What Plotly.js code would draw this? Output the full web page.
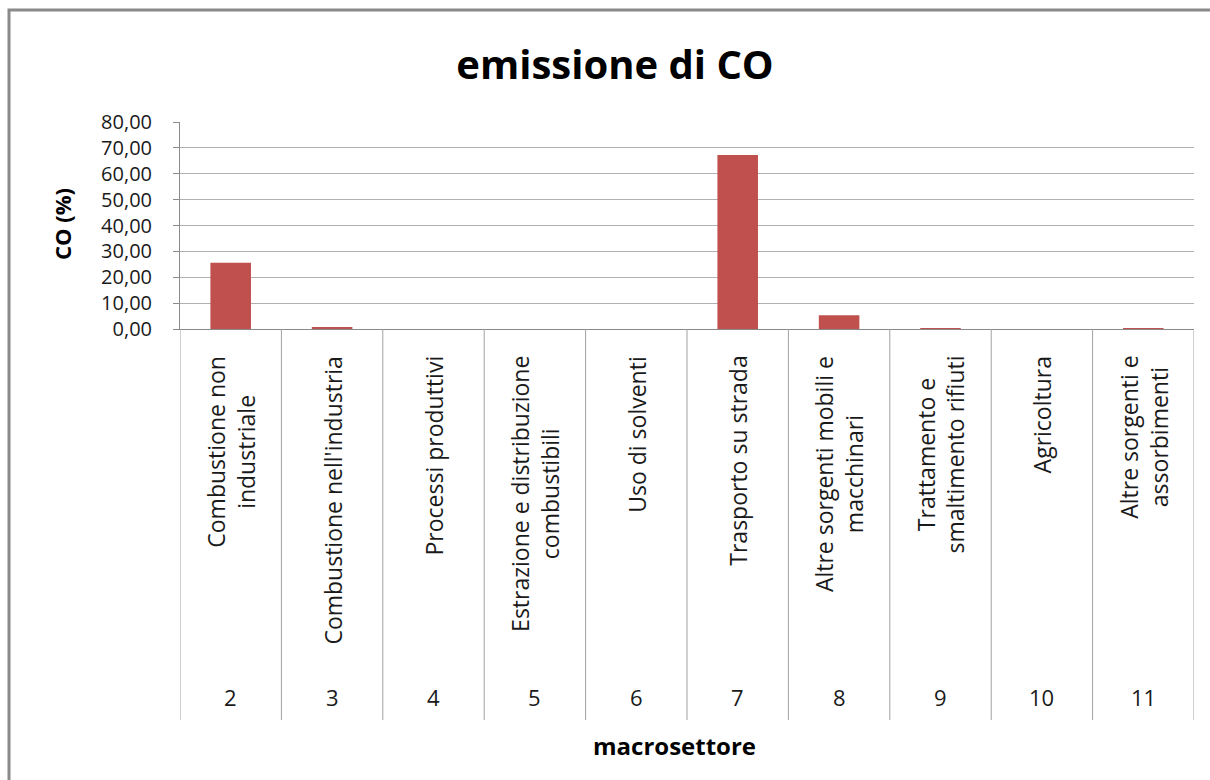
<!DOCTYPE html>
<html>
<head>
<meta charset="utf-8">
<script src="https://cdn.plot.ly/plotly-3.0.1.min.js"></script>
<style>html,body{margin:0;padding:0;background:#fff;}</style>
</head>
<body>
<div id="chart" style="width:1210px;height:780px;"></div>
<script>
// ---- data ----
const sectorNames = [
  "Combustione non<br>industriale",
  "Combustione nell'industria",
  "Processi produttivi",
  "Estrazione e distribuzione<br>combustibili",
  "Uso di solventi",
  "Trasporto su strada",
  "Altre sorgenti mobili e<br>macchinari",
  "Trattamento e<br>smaltimento rifiuti",
  "Agricoltura",
  "Altre sorgenti e<br>assorbimenti"
];
const sectorCodes = ["2","3","4","5","6","7","8","9","10","11"];
const coPercent = [25.6, 0.8, 0, 0, 0, 67.2, 5.3, 0.4, 0, 0.4];

// ---- layout geometry ----
const W = 1210, H = 780;
const M = {l: 180, r: 16, t: 122, b: 451};
const plotH = H - M.t - M.b;
const plotW = W - M.l - M.r;
const py = p => (H - M.b - p) / plotH;   // pixel y -> paper y
const px = p => (p - M.l) / plotW;       // pixel x -> paper x

const FONT = "Open Sans, Noto Sans, sans-serif";
const GRID = "#b0b0b0", AXIS = "#8a8a8a";

const annotations = [];
sectorNames.forEach((name, i) => {
  annotations.push({
    x: i, xref: "x", y: py(354), yref: "paper",
    text: name, showarrow: false, textangle: -90,
    xanchor: "center", yanchor: "top", align: "center",
    font: {family: FONT, size: 23, color: "#1a1a1a"}
  });
  annotations.push({
    x: i, xref: "x", y: py(697), yref: "paper",
    text: sectorCodes[i], showarrow: false,
    xanchor: "center", yanchor: "middle",
    font: {family: FONT, size: 22, color: "#1a1a1a"}
  });
});
annotations.push({
  x: px(62), xref: "paper", y: py(224), yref: "paper",
  text: "<b>CO (%)</b>", showarrow: false, textangle: -90,
  xanchor: "center", yanchor: "middle",
  font: {family: FONT, size: 22, color: "#000"}
});
annotations.push({
  x: px(674), xref: "paper", y: py(745), yref: "paper",
  text: "<b>macrosettore</b>", showarrow: false,
  xanchor: "center", yanchor: "middle",
  font: {family: FONT, size: 24, color: "#000"}
});

const shapes = [];
for (let k = 0; k <= sectorNames.length; k++) {
  shapes.push({
    type: "line", xref: "x", yref: "paper",
    x0: k - 0.5, x1: k - 0.5, y0: 0, y1: py(720),
    line: {color: "#a0a0a0", width: 1}
  });
}
// outer chart frame
shapes.push({
  type: "rect", xref: "paper", yref: "paper",
  x0: px(9), x1: px(1260), y0: py(10), y1: py(830),
  line: {color: AXIS, width: 3}, fillcolor: "rgba(0,0,0,0)", layer: "below"
});

const trace = {
  type: "bar",
  x: sectorNames.map((_, i) => i),
  y: coPercent,
  width: 0.4,
  marker: {color: "#c0504d"},
  hoverinfo: "skip"
};

const layout = {
  width: W, height: H,
  margin: M,
  paper_bgcolor: "#fff", plot_bgcolor: "#fff",
  separators: ",.",
  showlegend: false,
  title: {
    text: "<b>emissione di CO</b>",
    font: {family: FONT, size: 40, color: "#000"},
    x: 615 / W, xref: "container", xanchor: "center",
    y: 1 - 65 / H, yref: "container", yanchor: "middle"
  },
  xaxis: {
    range: [-0.5, sectorNames.length - 0.5],
    showticklabels: false, ticks: "",
    showgrid: false, zeroline: false,
    showline: true, linecolor: AXIS, linewidth: 1,
    fixedrange: true
  },
  yaxis: {
    range: [0, 80], dtick: 10, tick0: 0,
    tickformat: ".2f",
    ticks: "outside", ticklen: 6, tickcolor: AXIS, tickwidth: 1,
    ticklabelstandoff: 17,
    tickfont: {family: FONT, size: 20, color: "#1a1a1a"},
    showgrid: true, gridcolor: GRID, gridwidth: 1,
    zeroline: false,
    showline: true, linecolor: AXIS, linewidth: 1,
    fixedrange: true
  },
  annotations: annotations,
  shapes: shapes
};

Plotly.newPlot("chart", [trace], layout, {displayModeBar: false, staticPlot: true});
</script>
</body>
</html>
